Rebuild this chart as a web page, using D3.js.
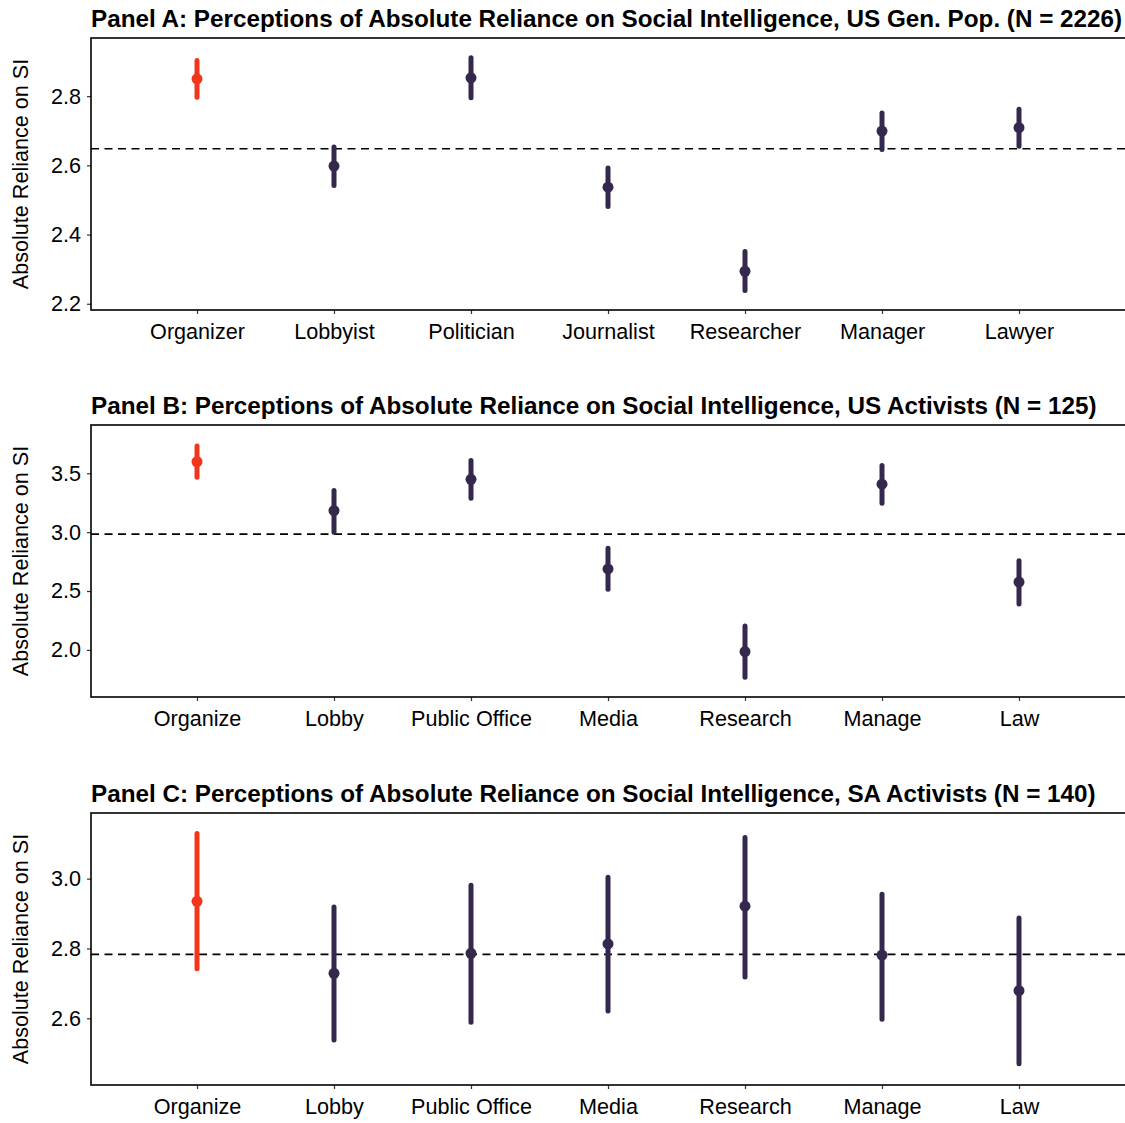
<!DOCTYPE html>
<html>
<head>
<meta charset="utf-8">
<script src="https://cdn.jsdelivr.net/npm/d3@7"></script>
<style>
  body { margin: 0; background: #fff; }
  svg { display: block; font-family: "Liberation Sans", Arial, sans-serif; }
</style>
</head>
<body>
<div id="plot"></div>
<script>

// ---- data ----

var titles = [
    "Panel A: Perceptions of Absolute Reliance on Social Intelligence, US Gen. Pop. (N = 2226)",
    "Panel B: Perceptions of Absolute Reliance on Social Intelligence, US Activists (N = 125)",
    "Panel C: Perceptions of Absolute Reliance on Social Intelligence, SA Activists (N = 140)"
];

var categoriesA = ["Organizer", "Lobbyist", "Politician", "Journalist", "Researcher", "Manager", "Lawyer"];
var meanA  = [2.850, 2.598, 2.853, 2.537, 2.294, 2.699, 2.709];
var lowA   = [2.797, 2.542, 2.795, 2.481, 2.238, 2.646, 2.655];
var highA  = [2.903, 2.653, 2.911, 2.592, 2.351, 2.751, 2.762];
var refA   = 2.648;
var ticksA = [2.2, 2.4, 2.6, 2.8];

var categoriesB = ["Organize", "Lobby", "Public Office", "Media", "Research", "Manage", "Law"];
var meanB  = [3.598, 3.183, 3.449, 2.688, 1.986, 3.407, 2.576];
var lowB   = [3.466, 3.000, 3.288, 2.515, 1.768, 3.246, 2.389];
var highB  = [3.732, 3.353, 3.608, 2.863, 2.204, 3.565, 2.757];
var refB   = 2.983;
var ticksB = [2.0, 2.5, 3.0, 3.5];

var categoriesC = ["Organize", "Lobby", "Public Office", "Media", "Research", "Manage", "Law"];
var meanC  = [2.935, 2.729, 2.786, 2.813, 2.921, 2.781, 2.679];
var lowC   = [2.742, 2.538, 2.589, 2.621, 2.718, 2.597, 2.470];
var highC  = [3.129, 2.919, 2.981, 3.004, 3.118, 2.955, 2.887];
var refC   = 2.783;
var ticksC = [2.6, 2.8, 3.0];

var red = "#f2361c";
var purple = "#35284d";

window.onload = function(){

    var svg = d3.select("#plot")
        .append("svg")
        .attr("width", 1125)
        .attr("height", 1123);

    buildPanel(svg, {
        title: titles[0], cats: categoriesA, mean: meanA, low: lowA, high: highA,
        ref: refA, ticks: ticksA, domain: [2.182, 2.968], top: 38
    });

    buildPanel(svg, {
        title: titles[1], cats: categoriesB, mean: meanB, low: lowB, high: highB,
        ref: refB, ticks: ticksB, domain: [1.60, 3.91], top: 425
    });

    buildPanel(svg, {
        title: titles[2], cats: categoriesC, mean: meanC, low: lowC, high: highC,
        ref: refC, ticks: ticksC, domain: [2.409, 3.188], top: 813
    });

};

function buildPanel(svg, p){

    var left = 91;
    var right = 1140;
    var height = 272;
    var top = p.top;

    // first category is the highlighted (red) one
    var data = p.cats.map((c, i) => ({
        cat: c,
        mean: p.mean[i],
        low: p.low[i],
        high: p.high[i],
        first: i == 0
    }));

    var xScale = d3.scalePoint()
        .domain(p.cats)
        .range([left + 106, left + 928]);

    var yScale = d3.scaleLinear()
        .domain(p.domain)
        .range([top + height, top]);

    var g = svg.append("g");

    // title
    g.append("text")
        .attr("x", left)
        .attr("y", top - 11)
        .style("font-size", "24.25px")
        .style("font-weight", "bold")
        .style("fill", "#000")
        .text(p.title);

    // y axis title
    g.append("text")
        .attr("transform", "translate(28," + (top + height / 2) + ") rotate(-90)")
        .attr("text-anchor", "middle")
        .style("font-size", "21.6px")
        .style("fill", "#000")
        .text("Absolute Reliance on SI");

    // reference line
    g.append("line")
        .attr("x1", left)
        .attr("x2", right)
        .attr("y1", yScale(p.ref))
        .attr("y2", yScale(p.ref))
        .style("stroke", "#000")
        .style("stroke-width", 1.6)
        .style("stroke-dasharray", "8,5.5");

    // error bars
    g.append("g")
        .selectAll("line")
        .data(data)
        .enter()
        .append("line")
        .attr("x1", d => xScale(d.cat))
        .attr("x2", d => xScale(d.cat))
        .attr("y1", d => yScale(d.low))
        .attr("y2", d => yScale(d.high))
        .style("stroke", d => d.first ? red : purple)
        .style("stroke-width", 5)
        .style("stroke-linecap", "round");

    // points
    g.append("g")
        .selectAll("circle")
        .data(data)
        .enter()
        .append("circle")
        .attr("cx", d => xScale(d.cat))
        .attr("cy", d => yScale(d.mean))
        .attr("r", 5.5)
        .style("fill", d => d.first ? red : purple);

    var yAxis = g.append("g")
        .attr("transform", "translate(" + left + ",0)")
        .call(d3.axisLeft(yScale).tickValues(p.ticks).tickFormat(d3.format(".1f")).tickSize(4).tickSizeOuter(0).tickPadding(6));

    var xAxis = g.append("g")
        .attr("transform", "translate(0," + (top + height) + ")")
        .call(d3.axisBottom(xScale).tickSize(4).tickSizeOuter(0).tickPadding(10));

    [yAxis, xAxis].forEach(a => {
        a.select(".domain").remove();
        a.selectAll(".tick line").style("stroke", "#333").style("stroke-width", 1.2);
        a.selectAll(".tick text")
            .style("font-size", "21.6px")
            .style("font-family", "'Liberation Sans', Arial, sans-serif")
            .style("fill", "#000");
    });

    // panel box (right edge runs off the image)
    g.append("rect")
        .attr("x", left)
        .attr("y", top)
        .attr("width", right - left)
        .attr("height", height)
        .style("fill", "none")
        .style("stroke", "#000")
        .style("stroke-width", 1.6);

}

</script>
</body>
</html>
